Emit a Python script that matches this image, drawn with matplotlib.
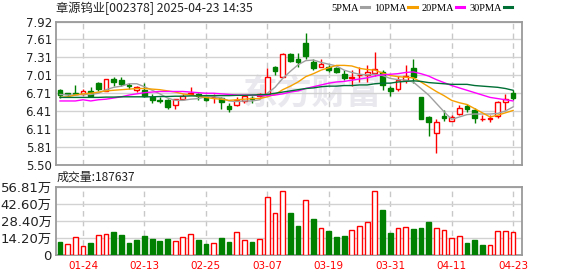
import numpy as np
import matplotlib
matplotlib.use('Agg')
import matplotlib.pyplot as plt
from matplotlib.lines import Line2D

# ---- data ----
dates = ['01-21', '01-22', '01-23', '01-24', '01-27', '02-05', '02-06', '02-07', '02-10', '02-11',
         '02-12', '02-13', '02-14', '02-17', '02-18', '02-19', '02-20', '02-21', '02-24', '02-25',
         '02-26', '02-27', '02-28', '03-03', '03-04', '03-05', '03-06', '03-07', '03-10', '03-11',
         '03-12', '03-13', '03-14', '03-17', '03-18', '03-19', '03-20', '03-21', '03-24', '03-25',
         '03-26', '03-27', '03-28', '03-31', '04-01', '04-02', '04-03', '04-07', '04-08', '04-09',
         '04-10', '04-11', '04-14', '04-15', '04-16', '04-17', '04-18', '04-21', '04-22', '04-23']

opens = [6.77, 6.71, 6.71, 6.69, 6.75, 6.89, 6.75, 6.945, 6.93, 6.85,
         6.77, 6.77, 6.64, 6.60, 6.60, 6.51, 6.61, 6.69, 6.69, 6.64,
         6.64, 6.63, 6.49, 6.51, 6.58, 6.63, 6.66, 6.70, 7.16, 6.99,
         7.38, 7.29, 7.55, 7.23, 7.16, 7.16, 7.14, 7.03, 6.96, 7.01,
         7.01, 7.05, 7.06, 6.80, 6.79, 6.93, 7.13, 6.64, 6.315, 6.045,
         6.33, 6.25, 6.36, 6.49, 6.42, 6.27, 6.28, 6.33, 6.57, 6.72]
highs = [6.78, 6.72, 6.85, 6.78, 6.81, 6.90, 6.95, 6.99, 6.98, 6.89,
         6.83, 6.89, 6.70, 6.64, 6.62, 6.61, 6.69, 6.82, 6.71, 6.65,
         6.70, 6.65, 6.54, 6.65, 6.67, 6.66, 6.71, 7.13, 7.17, 7.39,
         7.39, 7.39, 7.73, 7.28, 7.28, 7.18, 7.15, 7.11, 7.10, 7.16,
         7.19, 7.41, 7.11, 6.84, 7.00, 7.18, 7.28, 6.64, 6.33, 6.27,
         6.43, 6.34, 6.51, 6.53, 6.46, 6.34, 6.34, 6.58, 6.70, 6.76]
lows = [6.63, 6.64, 6.69, 6.68, 6.64, 6.74, 6.75, 6.84, 6.83, 6.78,
        6.73, 6.64, 6.55, 6.54, 6.44, 6.44, 6.60, 6.68, 6.59, 6.58,
        6.55, 6.44, 6.39, 6.50, 6.55, 6.54, 6.65, 6.66, 7.01, 6.98,
        7.23, 7.15, 7.28, 7.10, 7.15, 7.06, 7.05, 6.93, 6.84, 6.90,
        6.90, 7.00, 6.76, 6.66, 6.74, 6.88, 6.89, 6.28, 5.99, 5.71,
        6.25, 6.24, 6.35, 6.39, 6.20, 6.24, 6.23, 6.30, 6.43, 6.59]
closes = [6.68, 6.69, 6.70, 6.74, 6.66, 6.78, 6.945, 6.90, 6.87, 6.84,
          6.81, 6.66, 6.60, 6.58, 6.48, 6.61, 6.66, 6.71, 6.66, 6.59,
          6.645, 6.56, 6.44, 6.60, 6.66, 6.62, 6.70, 6.99, 7.09, 7.38,
          7.26, 7.24, 7.33, 7.14, 7.20, 7.10, 7.07, 6.97, 6.98, 7.02,
          7.06, 7.12, 6.85, 6.75, 6.93, 7.00, 6.99, 6.28, 6.22, 6.23,
          6.30, 6.31, 6.46, 6.44, 6.30, 6.28, 6.29, 6.56, 6.62, 6.63]
close_before = 6.73

ma5 = [6.69, 6.68, 6.68, 6.69, 6.69, 6.71, 6.77, 6.81, 6.83, 6.87,
       6.87, 6.82, 6.76, 6.70, 6.63, 6.59, 6.59, 6.61, 6.62, 6.65,
       6.65, 6.63, 6.58, 6.57, 6.58, 6.58, 6.60, 6.71, 6.81, 6.96,
       7.08, 7.19, 7.26, 7.27, 7.23, 7.20, 7.17, 7.10, 7.06, 7.03,
       7.02, 7.03, 7.01, 6.96, 6.94, 6.93, 6.90, 6.79, 6.68, 6.54,
       6.40, 6.27, 6.31, 6.35, 6.36, 6.36, 6.36, 6.37, 6.41, 6.48]
ma10 = [6.64, 6.65, 6.68, 6.70, 6.71, 6.73, 6.75, 6.76, 6.77, 6.78,
        6.79, 6.79, 6.78, 6.77, 6.75, 6.73, 6.70, 6.68, 6.66, 6.64,
        6.62, 6.61, 6.59, 6.60, 6.61, 6.62, 6.62, 6.65, 6.69, 6.77,
        6.83, 6.90, 6.99, 7.04, 7.10, 7.14, 7.18, 7.18, 7.17, 7.13,
        7.11, 7.10, 7.05, 7.01, 6.99, 6.98, 6.97, 6.90, 6.82, 6.74,
        6.67, 6.59, 6.55, 6.52, 6.45, 6.38, 6.31, 6.34, 6.38, 6.42]
ma20 = [6.58, 6.58, 6.58, 6.60, 6.58, 6.60, 6.61, 6.63, 6.65, 6.68,
        6.70, 6.72, 6.73, 6.74, 6.74, 6.74, 6.74, 6.73, 6.72, 6.71,
        6.71, 6.70, 6.69, 6.68, 6.68, 6.68, 6.67, 6.67, 6.68, 6.70,
        6.73, 6.75, 6.79, 6.82, 6.85, 6.88, 6.90, 6.91, 6.93, 6.95,
        6.97, 7.00, 7.02, 7.03, 7.04, 7.06, 7.07, 7.04, 7.00, 6.94,
        6.89, 6.84, 6.80, 6.76, 6.72, 6.68, 6.64, 6.62, 6.60, 6.58]
ma30 = [6.64, 6.64, 6.64, 6.64, 6.64, 6.64, 6.645, 6.645, 6.65, 6.65,
        6.65, 6.65, 6.65, 6.655, 6.655, 6.66, 6.66, 6.665, 6.665, 6.67,
        6.67, 6.67, 6.67, 6.675, 6.675, 6.68, 6.685, 6.69, 6.71, 6.73,
        6.75, 6.77, 6.79, 6.80, 6.82, 6.83, 6.83, 6.84, 6.84, 6.85,
        6.85, 6.87, 6.88, 6.88, 6.90, 6.91, 6.92, 6.91, 6.89, 6.88,
        6.87, 6.86, 6.86, 6.86, 6.84, 6.83, 6.82, 6.81, 6.79, 6.76]

volume = [10.6, 9.0, 15.3, 7.9, 9.8, 16.9, 17.7, 18.8, 16.4, 9.8,
          12.3, 15.6, 13.1, 11.5, 13.1, 12.0, 14.7, 17.7, 12.3, 9.0,
          9.6, 13.9, 10.6, 19.4, 12.8, 10.6, 13.7, 47.9, 34.6, 52.9,
          34.6, 24.1, 45.5, 29.9, 22.1, 20.0, 14.9, 15.8, 20.5, 23.8,
          27.2, 52.9, 37.4, 18.3, 22.1, 23.0, 21.6, 22.4, 27.4, 22.1,
          20.5, 14.1, 15.5, 9.9, 12.5, 8.3, 8.0, 19.7, 19.7, 18.76]

price_labels = ['7.92', '7.61', '7.31', '7.01', '6.71', '6.41', '6.11', '5.81', '5.50']
vol_labels = ['56.81万', '42.60万', '28.40万', '14.20万', '0']
ma_names = ['5PMA', '10PMA', '20PMA', '30PMA']

# ---- style ----
RED = '#ff0000'
GREEN = '#008000'
ma_colors = ['#a0a0a0', '#f5a000', '#ff00ff', '#006f35']
GRID = '#d2d2d2'
FRAME = '#9a9a9a'
TXT = '#222222'
fam = ['DejaVu Sans', 'Noto Sans CJK SC']

O, H, L, C = map(np.array, (opens, highs, lows, closes))
x = np.arange(len(C))
up = C >= O
lo = np.minimum(O, C)
hi = np.maximum(O, C)
hgt = np.maximum(hi - lo, 0.006)
vol_up = np.diff(np.r_[close_before, C]) >= 0

fig = plt.figure(figsize=(5.78, 2.76), dpi=100)
W, Hh = 578, 276
ax = fig.add_axes([56 / W, 1 - 165 / Hh, 466 / W, 143.5 / Hh])
axv = fig.add_axes([56 / W, 1 - 255 / Hh, 466 / W, 68.3 / Hh])

xlim = (-0.52, 60.16)
tick_idx = x[3::8]

for a in (ax, axv):
    a.set_xlim(*xlim)
    a.set_xticks(tick_idx)
    a.grid(axis='x', color='#c8c8c8', linestyle=(0, (4, 3)), lw=1)
    a.grid(axis='y', color=GRID, lw=1)
    a.set_axisbelow(True)
    a.tick_params(length=0, labelsize=8, labelcolor=TXT, pad=3)
    for s in a.spines.values():
        s.set_color(FRAME)
        s.set_linewidth(1.3)

# watermark
ax.text(0.55, 0.5, '东方财富', transform=ax.transAxes, ha='center', va='center',
        fontsize=25, fontweight='bold', color='#e8e8ee', family='Noto Sans CJK SC', zorder=0)

# candles
ax.vlines(x, hi, H, colors=np.where(up, RED, GREEN), lw=1, zorder=2)
ax.vlines(x, L, lo, colors=np.where(up, RED, GREEN), lw=1, zorder=2)
ax.bar(x[up], hgt[up], bottom=lo[up], width=0.62, facecolor='white', edgecolor=RED, lw=1, zorder=3)
ax.bar(x[~up], hgt[~up], bottom=lo[~up], width=0.62, facecolor=GREEN, edgecolor=GREEN, lw=1, zorder=3)

for vals, col in zip([ma5, ma10, ma20, ma30], ma_colors):
    ax.plot(x, vals, color=col, lw=1, zorder=4)

ax.set_ylim(5.50, 7.92)
ax.set_yticks(np.linspace(7.92, 5.50, len(price_labels)))
ax.set_yticklabels(price_labels, family=fam, fontsize=8.5)
ax.set_xticklabels([])

# volume
V = np.array(volume)
axv.bar(x[vol_up], V[vol_up], width=0.62, facecolor='white', edgecolor=RED, lw=1, zorder=3)
axv.bar(x[~vol_up], V[~vol_up], width=0.62, facecolor=GREEN, edgecolor=GREEN, lw=1, zorder=3)
axv.set_ylim(0, 56.81)
axv.set_yticks(np.linspace(56.81, 0, len(vol_labels)))
axv.set_yticklabels(vol_labels, family=fam, fontsize=9.5)
axv.set_xticklabels([dates[i] for i in tick_idx], color=RED, fontsize=7.5, family=fam)
axv.tick_params(axis='x', pad=4)

# header texts
fig.text(56 / W, 1 - 8.5 / Hh, '章源钨业[002378] 2025-04-23 14:35', va='center', ha='left',
         fontsize=8.8, color=TXT, family='Noto Sans CJK SC')
fig.text(57 / W, 1 - 177.5 / Hh, '成交量:187637', va='center', ha='left',
         fontsize=8.6, color=TXT, family='Noto Sans CJK SC')

handles = [Line2D([0], [0], color=c, lw=2.2) for c in ma_colors]
fig.legend(handles, ma_names, loc='center right', bbox_to_anchor=(512 / W, 1 - 8.5 / Hh),
           ncol=4, frameon=False, markerfirst=False, handlelength=0.8, handletextpad=0.2,
           columnspacing=0.45, borderpad=0, borderaxespad=0,
           prop={'family': 'Liberation Serif', 'size': 7.5})

fig.savefig('out.png', dpi=100)
